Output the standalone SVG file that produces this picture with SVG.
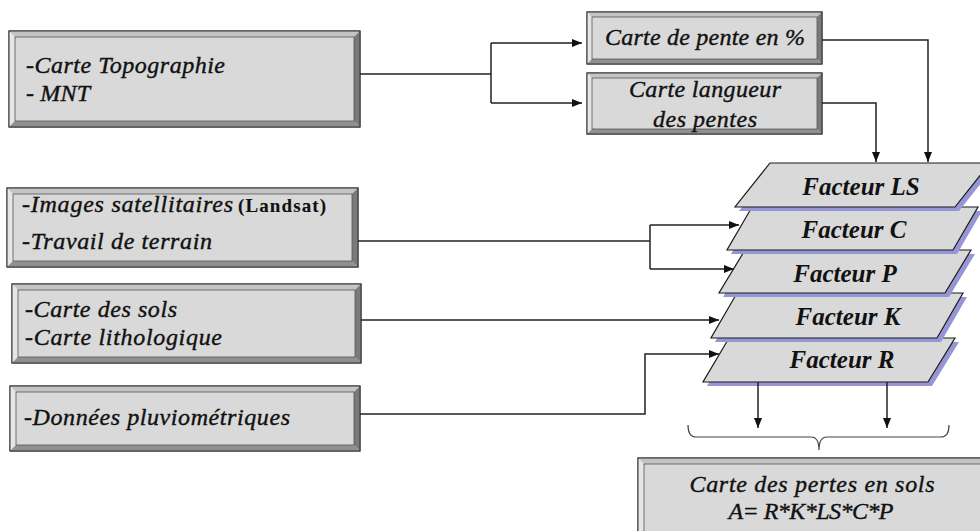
<svg xmlns="http://www.w3.org/2000/svg" width="980" height="531" viewBox="0 0 980 531">
  <style>
    .face { fill: #d9d9d9; stroke: #333; stroke-width: 1; }
    .inner { fill: none; stroke: #555; stroke-width: 0.8; }
    .bt { fill: #c4c4c4; }
    .bl { fill: #e6e6e6; }
    .br { fill: #7a7a7a; }
    .bb { fill: #909090; }
    .edge { fill: none; stroke: #333; stroke-width: 1; }
    .txt { font-family: "Liberation Serif", "Times New Roman", serif; font-style: italic; font-size: 24px; fill: #111; stroke: #111; stroke-width: 0.4; }
    .small { font-style: normal; font-weight: bold; font-size: 19px; stroke-width: 0.1; }
    .fac { font-family: "Liberation Serif", "Times New Roman", serif; font-style: italic; font-weight: bold; font-size: 25px; fill: #111; text-anchor: middle; }
    .mid { text-anchor: middle; }
    .layer { fill: #d9d9d9; stroke: #1a1a1a; stroke-width: 1.2; }
    .shadow { fill: #9696d6; }
    .wire { fill: none; stroke: #222; stroke-width: 1.5; }
    .brace { fill: none; stroke: #444; stroke-width: 1.2; }
  </style>
  <defs>
    <marker id="arrow" markerUnits="userSpaceOnUse" markerWidth="10" markerHeight="8" refX="10" refY="4" orient="auto">
      <path d="M0,0 L10,4 L0,8 z" fill="#111"/>
    </marker>
  </defs>

  <!-- input: topography -->
  <g id="box-topo">
    <rect class="face" x="9" y="31" width="351" height="96"/>
    <polygon class="bt" points="9,31 360,31 354,37 15,37"/>
    <polygon class="bl" points="9,31 15,37 15,121 9,127"/>
    <polygon class="br" points="360,31 360,127 354,121 354,37"/>
    <polygon class="bb" points="9,127 360,127 354,121 15,121"/>
    <rect class="inner" x="15" y="37" width="339" height="84"/>
    <rect class="edge" x="9" y="31" width="351" height="96"/>
    <text class="txt" x="26" y="73" textLength="199" lengthAdjust="spacing">-Carte Topographie</text>
    <text class="txt" x="26" y="101" textLength="64" lengthAdjust="spacing">- MNT</text>
  </g>

  <!-- slope map -->
  <g id="box-pente">
    <rect class="face" x="587" y="12" width="235" height="52"/>
    <polygon class="bt" points="587,12 822,12 817,17 592,17"/>
    <polygon class="bl" points="587,12 592,17 592,59 587,64"/>
    <polygon class="br" points="822,12 822,64 817,59 817,17"/>
    <polygon class="bb" points="587,64 822,64 817,59 592,59"/>
    <rect class="inner" x="592" y="17" width="225" height="42"/>
    <rect class="edge" x="587" y="12" width="235" height="52"/>
    <text class="txt mid" x="705" y="45" textLength="200" lengthAdjust="spacing">Carte de pente en %</text>
  </g>

  <!-- slope length map -->
  <g id="box-longueur">
    <rect class="face" x="587" y="73" width="235" height="61"/>
    <polygon class="bt" points="587,73 822,73 817,78 592,78"/>
    <polygon class="bl" points="587,73 592,78 592,129 587,134"/>
    <polygon class="br" points="822,73 822,134 817,129 817,78"/>
    <polygon class="bb" points="587,134 822,134 817,129 592,129"/>
    <rect class="inner" x="592" y="78" width="225" height="51"/>
    <rect class="edge" x="587" y="73" width="235" height="61"/>
    <text class="txt mid" x="705" y="97" textLength="152" lengthAdjust="spacing">Carte langueur</text>
    <text class="txt mid" x="705" y="127" textLength="104" lengthAdjust="spacing">des pentes</text>
  </g>

  <!-- input: imagery / field work -->
  <g id="box-images">
    <rect class="face" x="7" y="188" width="351" height="79"/>
    <polygon class="bt" points="7,188 358,188 352,194 13,194"/>
    <polygon class="bl" points="7,188 13,194 13,261 7,267"/>
    <polygon class="br" points="358,188 358,267 352,261 352,194"/>
    <polygon class="bb" points="7,267 358,267 352,261 13,261"/>
    <rect class="inner" x="13" y="194" width="339" height="67"/>
    <rect class="edge" x="7" y="188" width="351" height="79"/>
    <text class="txt" x="22" y="212" textLength="211" lengthAdjust="spacing">-Images satellitaires</text>
    <text class="txt small" x="238" y="212" textLength="88" lengthAdjust="spacing">(Landsat)</text>
    <text class="txt" x="22" y="249" textLength="190" lengthAdjust="spacing">-Travail de terrain</text>
  </g>

  <!-- input: soils / lithology -->
  <g id="box-sols">
    <rect class="face" x="12" y="284" width="349" height="79"/>
    <polygon class="bt" points="12,284 361,284 355,290 18,290"/>
    <polygon class="bl" points="12,284 18,290 18,357 12,363"/>
    <polygon class="br" points="361,284 361,363 355,357 355,290"/>
    <polygon class="bb" points="12,363 361,363 355,357 18,357"/>
    <rect class="inner" x="18" y="290" width="337" height="67"/>
    <rect class="edge" x="12" y="284" width="349" height="79"/>
    <text class="txt" x="25" y="317" textLength="152" lengthAdjust="spacing">-Carte des sols</text>
    <text class="txt" x="25" y="345" textLength="197" lengthAdjust="spacing">-Carte lithologique</text>
  </g>

  <!-- input: rainfall -->
  <g id="box-pluvio">
    <rect class="face" x="10" y="386" width="350" height="65"/>
    <polygon class="bt" points="10,386 360,386 354,392 16,392"/>
    <polygon class="bl" points="10,386 16,392 16,445 10,451"/>
    <polygon class="br" points="360,386 360,451 354,445 354,392"/>
    <polygon class="bb" points="10,451 360,451 354,445 16,445"/>
    <rect class="inner" x="16" y="392" width="338" height="53"/>
    <rect class="edge" x="10" y="386" width="350" height="65"/>
    <text class="txt" x="24" y="425" textLength="266" lengthAdjust="spacing">-Données pluviométriques</text>
  </g>

  <!-- factor layers, drawn bottom-up so each shadow falls on the layer below -->
  <g id="layer-R">
    <polygon class="shadow" points="733,342 959,342 932,386 707,386"/>
    <polygon class="layer" points="729,338 955,338 928,382 703,382"/>
    <text class="fac" x="842" y="368">Facteur R</text>
  </g>
  <g id="layer-K">
    <polygon class="shadow" points="741,297 967,297 941,342 715,342"/>
    <polygon class="layer" points="737,293 963,293 937,338 711,338"/>
    <text class="fac" x="848" y="325">Facteur K</text>
  </g>
  <g id="layer-P">
    <polygon class="shadow" points="749,254 975,254 949,297 723,297"/>
    <polygon class="layer" points="745,250 971,250 945,293 719,293"/>
    <text class="fac" x="845" y="282">Facteur P</text>
  </g>
  <g id="layer-C">
    <polygon class="shadow" points="756,211 982,211 957,254 731,254"/>
    <polygon class="layer" points="752,207 978,207 953,250 727,250"/>
    <text class="fac" x="854" y="238">Facteur C</text>
  </g>
  <g id="layer-LS">
    <polygon class="shadow" points="774,167 994,167 959,211 739,211"/>
    <polygon class="layer" points="770,163 990,163 955,207 735,207"/>
    <text class="fac" x="861" y="195">Facteur LS</text>
  </g>

  <!-- result -->
  <g id="box-result">
    <rect class="face" x="638" y="458" width="352" height="87"/>
    <polygon class="bt" points="638,458 990,458 984,464 644,464"/>
    <polygon class="bl" points="638,458 644,464 644,539 638,545"/>
    <rect class="inner" x="644" y="464" width="340" height="75"/>
    <rect class="edge" x="638" y="458" width="352" height="87"/>
    <text class="txt mid" x="812" y="492" font-size="25" textLength="245" lengthAdjust="spacing">Carte des pertes en sols</text>
    <text class="txt mid" x="811" y="519" font-size="25" textLength="165" lengthAdjust="spacing">A= R*K*LS*C*P</text>
  </g>

  <!-- connectors -->
  <g id="connectors">
    <path class="wire" d="M360,74 H491"/>
    <path class="wire" d="M491,43 V103"/>
    <path class="wire" d="M491,43 H582" marker-end="url(#arrow)"/>
    <path class="wire" d="M491,103 H582" marker-end="url(#arrow)"/>
    <path class="wire" d="M822,40 H928 V162" marker-end="url(#arrow)"/>
    <path class="wire" d="M822,103 H876 V162" marker-end="url(#arrow)"/>
    <path class="wire" d="M358,241 H650"/>
    <path class="wire" d="M650,225 V269"/>
    <path class="wire" d="M650,225 H739" marker-end="url(#arrow)"/>
    <path class="wire" d="M650,269 H734" marker-end="url(#arrow)"/>
    <path class="wire" d="M361,320 H719" marker-end="url(#arrow)"/>
    <path class="wire" d="M360,414 H645 V354 H719" marker-end="url(#arrow)"/>
    <path class="wire" d="M758,382 V428" marker-end="url(#arrow)"/>
    <path class="wire" d="M887,382 V428" marker-end="url(#arrow)"/>
    <path class="brace" d="M688,425 Q688,437 696,437 H811 Q819,437 819,450 Q819,437 827,437 H941 Q949,437 949,425"/>
  </g>
</svg>
